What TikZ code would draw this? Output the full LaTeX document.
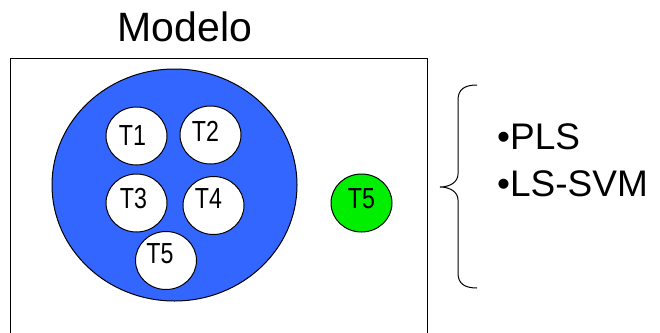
\documentclass[tikz,border=0pt]{standalone}
\usepackage{fontspec}
\setmainfont{Liberation Sans}
\usetikzlibrary{shapes.geometric}
\definecolor{bigblue}{RGB}{51,102,255}
\definecolor{brightgreen}{RGB}{0,238,0}
\begin{document}
\begin{tikzpicture}[x=1pt,y=-1pt,
  tcirc/.style={ellipse,draw=black,line width=1pt,inner sep=0pt,
    minimum width=61pt,minimum height=58pt},
  tlabel/.style={inner sep=0pt,font=\fontsize{29}{33}\selectfont},
  bigtext/.style={font=\fontsize{37}{44}\selectfont,inner sep=0pt,anchor=base west}]
\useasboundingbox (0,0) rectangle (660,332);
\clip (0,0) rectangle (660,332);
\node[font=\fontsize{41}{48}\selectfont,inner sep=0pt,anchor=base] (title) at (185,41.5) {Modelo};
\node[draw=black,line width=1.3pt,inner sep=0pt,anchor=north west,minimum width=417pt,minimum height=300pt] (frame) at (10,58) {};
\node[ellipse,draw=black,line width=1pt,fill=bigblue,inner sep=0pt,minimum width=245pt,minimum height=232pt] (pool) at (174.5,185) {};
\node[tcirc,fill=white] (t1) at (136.5,136) {};
\node[tcirc,fill=white] (t2) at (210.5,135) {};
\node[tcirc,fill=white] (t3) at (136.5,203) {};
\node[tcirc,fill=white] (t4) at (213.5,205.5) {};
\node[tcirc,fill=white] (t5) at (166,260.5) {};
\node[tcirc,fill=brightgreen] (t5g) at (361.5,203) {};
\node[tlabel] (l1) at ([shift={(-4,0)}]t1.center) {\scalebox{0.8}[1]{T1}};
\node[tlabel] (l2) at ([shift={(-5,-4)}]t2.center) {\scalebox{0.8}[1]{T2}};
\node[tlabel] (l3) at ([shift={(-3,-4)}]t3.center) {\scalebox{0.8}[1]{T3}};
\node[tlabel] (l4) at ([shift={(-5,-6.5)}]t4.center) {\scalebox{0.8}[1]{T4}};
\node[tlabel] (l5) at ([shift={(-6,-7)}]t5.center) {\scalebox{0.8}[1]{T5}};
\node[tlabel] (l5g) at ([shift={(0,-4)}]t5g.center) {\scalebox{0.8}[1]{T5}};
\draw[line width=1pt] (477,85) .. controls (465,85) and (458,89) .. (458,100)
  -- (458,174) .. controls (458,182) and (450,187) .. (440,187)
  .. controls (450,187) and (458,192) .. (458,200)
  -- (458,273) .. controls (458,284) and (465,288) .. (477,288);
\node[bigtext] (pls) at (497,149.3) {•PLS};
\node[bigtext] (lssvm) at (497,196.7) {•LS-SVM};
\end{tikzpicture}
\end{document}
